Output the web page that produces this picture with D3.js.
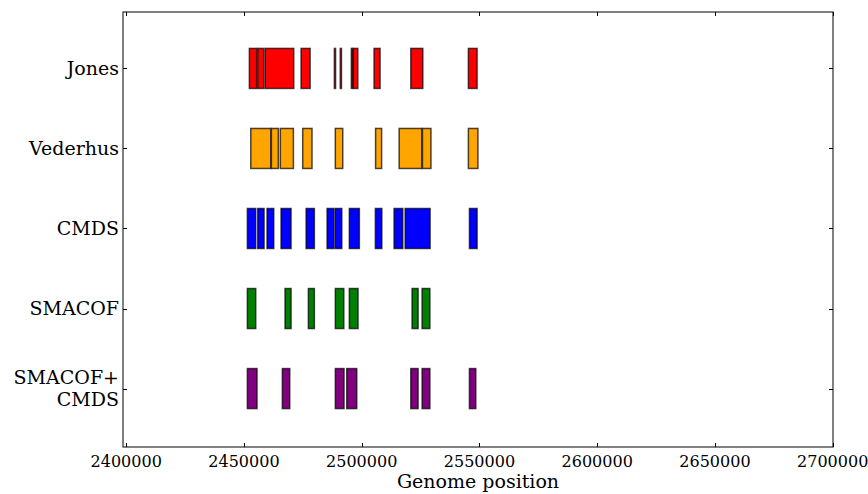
<!DOCTYPE html>
<html>
<head>
<meta charset="utf-8">
<script src="https://cdn.jsdelivr.net/npm/d3@7/dist/d3.min.js"></script>
<style>
  html, body { margin: 0; padding: 0; background: #fff; }
  svg { display: block; }
  text { font-family: "DejaVu Serif", serif; fill: #000; }
</style>
</head>
<body>
<svg id="chart" width="868" height="494"></svg>
<script>
// Methods compared, top to bottom
const methods = ["Jones", "Vederhus", "CMDS", "SMACOF", "SMACOF+\nCMDS"];
const colors = ["#ff0000", "#ffa500", "#0000ff", "#008000", "#800080"];

// Detected regions per method: [start, end] genome positions
const jonesRegions = [
  [2452300, 2455400], [2455850, 2458400], [2458950, 2471150],
  [2474250, 2478100], [2488400, 2488900], [2490900, 2491400],
  [2495600, 2496200], [2496450, 2498350], [2505250, 2507800],
  [2520850, 2525950], [2545300, 2549000]
];
const vederhusRegions = [
  [2452900, 2461400], [2461650, 2464600], [2465450, 2471000],
  [2474950, 2478900], [2488800, 2491950], [2505900, 2508450],
  [2515900, 2525500], [2525800, 2529400], [2545300, 2549350]
];
const cmdsRegions = [
  [2451450, 2455000], [2455850, 2458550], [2459800, 2462650],
  [2465750, 2470000], [2476400, 2479900], [2485300, 2488150],
  [2488700, 2491550], [2494750, 2499000], [2505800, 2508550],
  [2513750, 2517450], [2518450, 2529050], [2545750, 2549000]
];
const smacofRegions = [
  [2451450, 2455000], [2467450, 2470000], [2477350, 2479900],
  [2488800, 2492400], [2494750, 2498450], [2521400, 2523950],
  [2525650, 2528950]
];
const smacofCmdsRegions = [
  [2451450, 2455550], [2466300, 2469450], [2488800, 2492500],
  [2493650, 2497900], [2520850, 2523950], [2525650, 2528950],
  [2545750, 2548450]
];
const regions = [jonesRegions, vederhusRegions, cmdsRegions, smacofRegions, smacofCmdsRegions];

const xTicks = [2400000, 2450000, 2500000, 2550000, 2600000, 2650000, 2700000];
const xLabel = "Genome position";

const svg = d3.select("#chart");
const plotLeft = 123, plotRight = 833, plotTop = 12, plotBottom = 447;

const x = d3.scaleLinear().domain([2398640, 2700130]).range([plotLeft, plotRight]);
const y = d3.scaleLinear().domain([-0.705, 4.73]).range([plotTop, plotBottom]);
const barHalf = 0.25;

// Bars
const g = svg.append("g");
regions.forEach((segs, i) => {
  g.selectAll(null)
    .data(segs)
    .enter().append("rect")
    .attr("x", d => x(d[0]))
    .attr("width", d => Math.max(0.4, x(d[1]) - x(d[0])))
    .attr("y", y(i - barHalf))
    .attr("height", y(i + barHalf) - y(i - barHalf))
    .attr("fill", colors[i])
    .attr("stroke", "#000")
    .attr("stroke-opacity", 0.7)
    .attr("stroke-width", 1.5);
});

// Frame
svg.append("rect")
  .attr("x", plotLeft).attr("y", plotTop)
  .attr("width", plotRight - plotLeft).attr("height", plotBottom - plotTop)
  .attr("fill", "none").attr("stroke", "#000").attr("stroke-width", 1);

// Inward ticks on all four sides
const tl = 4;
const tickG = svg.append("g").attr("stroke", "#000").attr("stroke-width", 1);
xTicks.forEach(t => {
  const px = Math.round(x(t)) + 0.5;
  tickG.append("line").attr("x1", px).attr("x2", px).attr("y1", plotBottom).attr("y2", plotBottom - tl);
  tickG.append("line").attr("x1", px).attr("x2", px).attr("y1", plotTop).attr("y2", plotTop + tl);
});
methods.forEach((m, i) => {
  const py = Math.round(y(i)) + 0.5;
  tickG.append("line").attr("x1", plotLeft).attr("x2", plotLeft + tl).attr("y1", py).attr("y2", py);
  tickG.append("line").attr("x1", plotRight).attr("x2", plotRight - tl).attr("y1", py).attr("y2", py);
});

// X tick labels
svg.append("g").selectAll("text")
  .data(xTicks)
  .enter().append("text")
  .attr("x", d => x(d))
  .attr("y", 467)
  .attr("text-anchor", "middle")
  .attr("font-size", "16px")
  .text(d => d3.format("d")(d));

// X axis label
svg.append("text")
  .attr("x", (plotLeft + plotRight) / 2)
  .attr("y", 488)
  .attr("text-anchor", "middle")
  .attr("font-size", "19px")
  .text(xLabel);

// Y tick labels (multi-line allowed)
const lineGap = 22;
methods.forEach((m, i) => {
  const lines = m.split("\n");
  const t = svg.append("text")
    .attr("text-anchor", "end")
    .attr("font-size", "19px");
  lines.forEach((ln, k) => {
    const cy = y(i) + (k - (lines.length - 1) / 2) * lineGap;
    t.append("tspan")
      .attr("x", 119)
      .attr("y", cy)
      .attr("dy", "0.36em")
      .text(ln);
  });
});
</script>
</body>
</html>
